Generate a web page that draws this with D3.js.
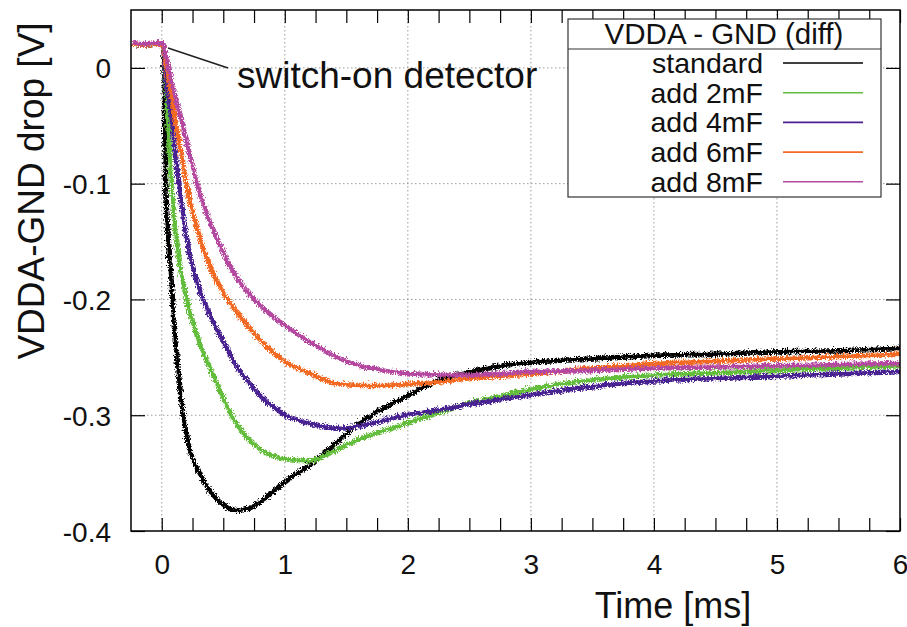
<!DOCTYPE html>
<html lang="en">
<head>
<meta charset="UTF-8">
<title>VDDA-GND drop</title>
<style>
    body { margin: 0; background: #fff; }
    svg { display: block; font-family: "Liberation Sans", Arial, Helvetica, sans-serif; }
</style>
</head>
<body>
<svg></svg>
<script src="https://d3js.org/d3.v7.min.js"></script>
<script>
// time samples in ms, values in V
var times    = [-0.25, -0.15, -0.05, 0, 0.02, 0.05, 0.1, 0.15, 0.2, 0.3, 0.4, 0.5, 0.6, 0.7, 0.8, 0.9, 1.0, 1.2, 1.4, 1.6, 1.8, 2.0, 2.25, 2.5, 2.75, 3.0, 3.5, 4.0, 4.5, 5.0, 5.5, 6.0];
var standard = [0.022, 0.021, 0.022, 0.021, -0.10, -0.16, -0.235, -0.29, -0.322, -0.350, -0.367, -0.377, -0.381, -0.379, -0.373, -0.364, -0.355, -0.341, -0.323, -0.305, -0.292, -0.281, -0.268, -0.261, -0.256, -0.253, -0.250, -0.247, -0.246, -0.244, -0.243, -0.241];
var add2mF   = [0.022, 0.021, 0.022, 0.021, -0.01, -0.07, -0.14, -0.178, -0.203, -0.238, -0.263, -0.287, -0.307, -0.320, -0.329, -0.334, -0.337, -0.338, -0.329, -0.319, -0.312, -0.305, -0.296, -0.288, -0.282, -0.276, -0.268, -0.264, -0.262, -0.260, -0.258, -0.256];
var add4mF   = [0.022, 0.021, 0.022, 0.021, -0.005, -0.03, -0.075, -0.118, -0.152, -0.192, -0.217, -0.238, -0.257, -0.271, -0.283, -0.292, -0.299, -0.306, -0.310, -0.308, -0.303, -0.298, -0.294, -0.289, -0.285, -0.281, -0.274, -0.269, -0.267, -0.265, -0.263, -0.261];
var add6mF   = [0.022, 0.021, 0.022, 0.021, 0.005, -0.012, -0.045, -0.075, -0.105, -0.147, -0.175, -0.195, -0.210, -0.223, -0.235, -0.245, -0.253, -0.263, -0.271, -0.273, -0.273, -0.272, -0.270, -0.267, -0.265, -0.263, -0.258, -0.254, -0.252, -0.250, -0.248, -0.246];
var add8mF   = [0.023, 0.022, 0.023, 0.022, 0.012, -0.002, -0.025, -0.045, -0.067, -0.108, -0.137, -0.161, -0.180, -0.194, -0.205, -0.214, -0.222, -0.236, -0.248, -0.256, -0.260, -0.263, -0.264, -0.264, -0.263, -0.261, -0.260, -0.258, -0.257, -0.256, -0.255, -0.254];

var seriesNames  = ["standard", "add 2mF", "add 4mF", "add 6mF", "add 8mF"];
var seriesColors = ["#000000", "#62bd3a", "#4a2191", "#f26a24", "#b4479f"];
var xTicks = [0, 1, 2, 3, 4, 5, 6];
var yTicks = [0, -0.1, -0.2, -0.3, -0.4];

var svgWidth = 907, svgHeight = 627;
var margin = { top: 10, right: 7, bottom: 96, left: 131 };
var width = svgWidth - margin.left - margin.right;
var height = svgHeight - margin.top - margin.bottom;

var svg = d3.select("svg").attr("width", svgWidth).attr("height", svgHeight);

var defs = svg.append("defs");
defs.append("clipPath").attr("id", "plot-clip")
    .append("rect").attr("width", width).attr("height", height);
// jitter so the traces look like sampled, noisy scope data
var f = defs.append("filter").attr("id", "noisy")
    .attr("filterUnits", "userSpaceOnUse")
    .attr("x", -10).attr("y", -10).attr("width", width + 20).attr("height", height + 20);
f.append("feTurbulence").attr("type", "turbulence")
    .attr("baseFrequency", "0.9 0.4").attr("numOctaves", 2).attr("seed", 4).attr("result", "t");
f.append("feDisplacementMap").attr("in", "SourceGraphic").attr("in2", "t")
    .attr("scale", 6).attr("xChannelSelector", "R").attr("yChannelSelector", "G");

var g = svg.append("g").attr("transform", "translate(" + margin.left + "," + margin.top + ")");

var x = d3.scaleLinear().domain([-0.25, 6]).range([0, width]);
var y = d3.scaleLinear().domain([-0.4, 0.05]).range([height, 0]);

// grid
g.append("g").selectAll("line").data(xTicks.filter(function(d) { return d > -0.25 && d < 6; }))
    .enter().append("line")
    .attr("x1", function(d) { return x(d); }).attr("x2", function(d) { return x(d); })
    .attr("y1", 0).attr("y2", height)
    .attr("stroke", "#9a9a9a").attr("stroke-width", 1).attr("stroke-dasharray", "1.5,2.5");
g.append("g").selectAll("line").data(yTicks.filter(function(d) { return d > -0.4; }))
    .enter().append("line")
    .attr("x1", 0).attr("x2", width)
    .attr("y1", function(d) { return y(d); }).attr("y2", function(d) { return y(d); })
    .attr("stroke", "#9a9a9a").attr("stroke-width", 1).attr("stroke-dasharray", "1.5,2.5");

// curves
var allSeries = [standard, add2mF, add4mF, add6mF, add8mF];
var line = d3.line()
    .x(function(d, i) { return x(times[i]); })
    .y(function(d) { return y(d); })
    .curve(d3.curveMonotoneX);

var curves = g.append("g").attr("clip-path", "url(#plot-clip)")
    .append("g").attr("filter", "url(#noisy)");
allSeries.forEach(function(vals, i) {
    curves.append("path")
        .datum(vals)
        .attr("fill", "none")
        .attr("stroke", seriesColors[i])
        .attr("stroke-width", 4.6)
        .attr("stroke-linejoin", "round")
        .attr("d", line);
});

// axes, ticks pointing inward
var minorX = d3.range(0, 6.001, 0.25);
var fmtX = function(d) { return xTicks.indexOf(d) >= 0 ? String(d) : ""; };
var fmtY = function(d) { return d === 0 ? "0" : d.toFixed(1); };  // plain hyphen minus

var xb = g.append("g").attr("transform", "translate(0," + height + ")")
    .call(d3.axisBottom(x).tickValues(minorX).tickFormat(fmtX).tickSize(-13).tickPadding(23));
var xt = g.append("g")
    .call(d3.axisTop(x).tickValues(minorX).tickFormat("").tickSize(-13));
var yl = g.append("g")
    .call(d3.axisLeft(y).tickValues(yTicks).tickFormat(fmtY).tickSize(-14).tickPadding(20));
var yr = g.append("g").attr("transform", "translate(" + width + ",0)")
    .call(d3.axisRight(y).tickValues(yTicks).tickFormat("").tickSize(-14));

[xb, xt, yl, yr].forEach(function(a) {
    a.select(".domain").remove();
    a.selectAll(".tick line").attr("stroke", "#000").attr("stroke-width", 1.2);
    a.selectAll("text").attr("fill", "#111").style("font-size", "28px")
        .style("font-family", "'Liberation Sans', Arial, sans-serif");
});
yl.selectAll("text").attr("dy", "0.36em");

g.append("rect").attr("width", width).attr("height", height)
    .attr("fill", "none").attr("stroke", "#000").attr("stroke-width", 1.5);

// axis titles
svg.append("text")
    .attr("x", 673).attr("y", 618)
    .attr("text-anchor", "middle")
    .style("font-size", "36px").attr("fill", "#111")
    .text("Time [ms]");
svg.append("text")
    .attr("transform", "translate(44,191) rotate(-90)")
    .attr("text-anchor", "middle")
    .style("font-size", "37px").attr("fill", "#111")
    .text("VDDA-GND drop [V]");

// annotation
svg.append("line")
    .attr("x1", 168).attr("y1", 48).attr("x2", 228).attr("y2", 68)
    .attr("stroke", "#222").attr("stroke-width", 1.5);
svg.append("text")
    .attr("x", 237).attr("y", 88)
    .style("font-size", "37px").attr("fill", "#111")
    .text("switch-on detector");

// legend
var lg = svg.append("g");
lg.append("rect")
    .attr("x", 568).attr("y", 19).attr("width", 313).attr("height", 178)
    .attr("fill", "#fff").attr("stroke", "#333").attr("stroke-width", 1.2);
lg.append("line")
    .attr("x1", 568).attr("x2", 881).attr("y1", 49).attr("y2", 49)
    .attr("stroke", "#333").attr("stroke-width", 1.2);
lg.append("text")
    .attr("x", 724).attr("y", 44)
    .attr("text-anchor", "middle")
    .style("font-size", "29.5px").attr("fill", "#111")
    .text("VDDA - GND (diff)");
seriesNames.forEach(function(name, i) {
    var yy = 63 + i * 29.7;
    lg.append("text")
        .attr("x", 763).attr("y", yy + 10)
        .attr("text-anchor", "end")
        .style("font-size", "28.5px").attr("fill", "#111")
        .text(name);
    lg.append("line")
        .attr("x1", 783).attr("x2", 863).attr("y1", yy).attr("y2", yy)
        .attr("stroke", seriesColors[i]).attr("stroke-width", 1.6);
});
</script>
</body>
</html>
